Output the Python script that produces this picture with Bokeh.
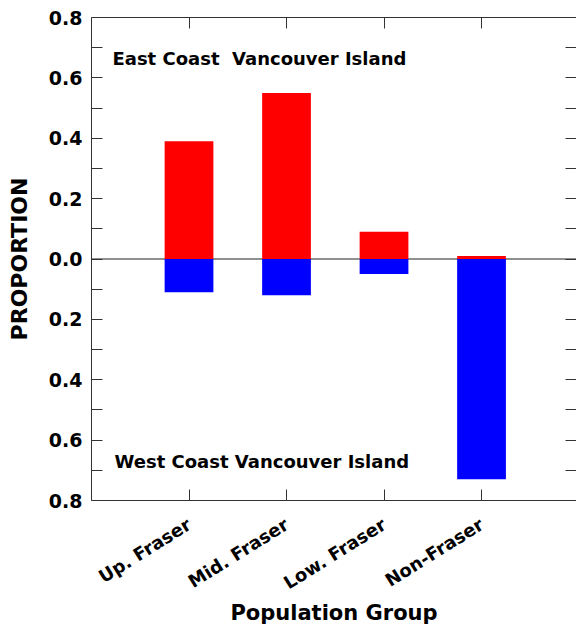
from bokeh.plotting import figure
from bokeh.models import FixedTicker, LinearAxis, Range1d, Label, Span, CustomJSTickFormatter, CustomLabelingPolicy
from bokeh.embed import file_html
from bokeh.resources import INLINE

categories = ["Up. Fraser", "Mid. Fraser", "Low. Fraser", "Non-Fraser"]
east_coast = [0.39, 0.55, 0.09, 0.01]
west_coast = [0.11, 0.12, 0.05, 0.73]
y_major = [-0.8, -0.6, -0.4, -0.2, 0.0, 0.2, 0.4, 0.6, 0.8]
y_minor = [-0.7, -0.5, -0.3, -0.1, 0.1, 0.3, 0.5, 0.7]

xpos = [i + 1 for i in range(len(categories))]
west_neg = [-v for v in west_coast]

FONT = "DejaVu Sans"
AX = "#333333"

p = figure(width=576, height=628, x_range=Range1d(0, 4.974), y_range=Range1d(-0.8, 0.8),
           output_backend="svg", toolbar_location=None,
           min_border_left=91, min_border_right=0, min_border_top=17, min_border_bottom=128,
           x_axis_location="below", y_axis_location="left")
p.outline_line_color = None
p.xgrid.visible = False
p.ygrid.visible = False
p.background_fill_color = "white"

zero = Span(location=0, dimension="width", line_color="#222222", line_width=1.2, level="underlay")
p.add_layout(zero)

p.vbar(x=xpos, bottom=0, top=east_coast, width=0.5, fill_color="#ff0000", line_color=None)
p.vbar(x=xpos, bottom=west_neg, top=0, width=0.5, fill_color="#0000ff", line_color=None)

# y axis
ya = p.yaxis[0]
ya.ticker = FixedTicker(ticks=y_major, minor_ticks=y_minor)
ya.formatter = CustomJSTickFormatter(code="return Math.abs(tick).toFixed(1);")
ya.major_tick_in = 11
ya.major_tick_out = 0
ya.minor_tick_in = 11
ya.minor_tick_out = 0
ya.axis_line_color = AX
ya.major_tick_line_color = AX
ya.minor_tick_line_color = AX
ya.major_label_text_font = FONT
ya.major_label_text_font_style = "bold"
ya.major_label_text_font_size = "19px"
ya.major_label_text_color = "black"
ya.major_label_standoff = 9
ya.axis_label = "PROPORTION"
ya.axis_label_text_font = FONT
ya.axis_label_text_font_style = "bold"
ya.axis_label_text_font_size = "22px"
ya.axis_label_text_color = "black"
ya.axis_label_standoff = 14

# x axis
xa = p.xaxis[0]
xa.ticker = FixedTicker(ticks=xpos)
xa.major_label_overrides = {x: c for x, c in zip(xpos, categories)}
xa.major_label_orientation = 0.56
xa.major_tick_in = 11
xa.major_tick_out = 0
xa.minor_tick_line_color = None
xa.axis_line_color = AX
xa.major_tick_line_color = AX
xa.major_label_text_font = FONT
xa.major_label_text_font_style = "bold"
xa.major_label_text_font_size = "18px"
xa.major_label_text_color = "black"
xa.major_label_standoff = 22
xa.axis_label = "Population Group"
xa.axis_label_text_font = FONT
xa.axis_label_text_font_style = "bold"
xa.axis_label_text_font_size = "21px"
xa.axis_label_text_color = "black"
xa.axis_label_standoff = -4

no_labels = CustomLabelingPolicy(code="return new Set()")
blank = CustomJSTickFormatter(code="return '';")

# top axis (ticks only)
ta = LinearAxis(ticker=FixedTicker(ticks=xpos), formatter=blank, major_label_policy=no_labels,
                major_label_standoff=0, major_tick_in=11, major_tick_out=0,
                minor_tick_line_color=None, axis_line_color=AX, major_tick_line_color=AX)
p.add_layout(ta, "above")

# right axis (ticks only)
ra = LinearAxis(ticker=FixedTicker(ticks=y_major, minor_ticks=y_minor), formatter=blank,
                major_label_policy=no_labels,
                major_label_standoff=0, major_tick_in=11, major_tick_out=0,
                minor_tick_in=11, minor_tick_out=0,
                axis_line_color=None, major_tick_line_color=AX, minor_tick_line_color=AX)
p.add_layout(ra, "right")

p.add_layout(Label(x=0.215, y=0.63, text="East Coast\u00a0 Vancouver Island", text_font=FONT,
                   text_font_size="18px", text_font_style="bold", text_color="black"))
p.add_layout(Label(x=0.236, y=-0.705, text="West Coast Vancouver Island", text_font=FONT,
                   text_font_size="18px", text_font_style="bold", text_color="black"))

open("out.html", "w").write(file_html(p, INLINE))
